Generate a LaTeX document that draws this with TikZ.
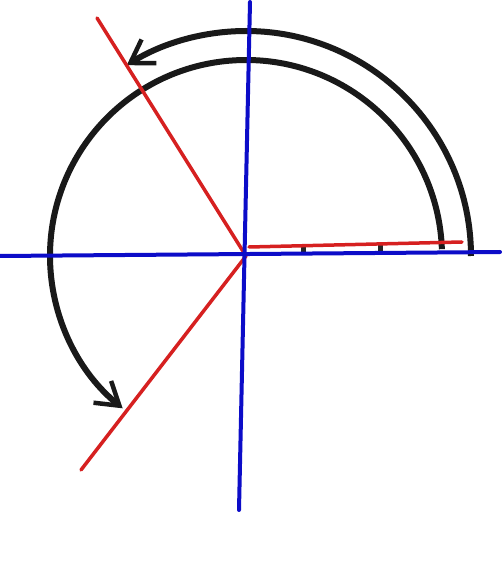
\documentclass[tikz,border=0pt]{standalone}
\usetikzlibrary{arrows.meta,calc}
\definecolor{axisblue}{RGB}{12,12,200}
\definecolor{rayred}{RGB}{214,32,32}
\tikzset{
  axisline/.style={draw=axisblue, line width=4pt, line cap=round},
  rayline/.style={draw=rayred, line width=3.5pt, line cap=round},
  arcline/.style={draw=black!90, line width=6pt, -{Straight Barb[length=22pt, width=28pt, line width=4.5pt]}},
  tickmark/.style={draw=black!85, line width=5pt}
}
\begin{document}
\begin{tikzpicture}[x=1pt,y=1pt]
\useasboundingbox (0,0) rectangle (502,582);
\fill[white] (0,0) rectangle (502,582);
\coordinate (C) at (246,326);
% arcs
\draw[arcline] ($(C)+(0:225)$) arc[start angle=0, end angle=122, radius=225];
\draw[arcline] ($(C)+(2:196)$) arc[start angle=2, end angle=231, radius=196];
% ticks
\draw[tickmark] (303,328) -- (303,336);
\draw[tickmark] (380,330) -- (380,338);
% red rays
\coordinate (RA) at (97,564);
\coordinate (RB) at (81,112);
\coordinate (RC0) at (249,335);
\coordinate (RC) at (462,340);
\draw[rayline] (C) -- (RA);
\draw[rayline] (C) -- (RB);
\draw[rayline] (RC0) -- (RC);
% blue axes
\coordinate (HL) at (0,326);
\coordinate (HR) at (500,330);
\coordinate (VT) at (250,580);
\coordinate (VB) at (239,72);
\draw[axisline] (HL) -- (HR);
\draw[axisline] (VT) -- (VB);
\end{tikzpicture}
\end{document}
